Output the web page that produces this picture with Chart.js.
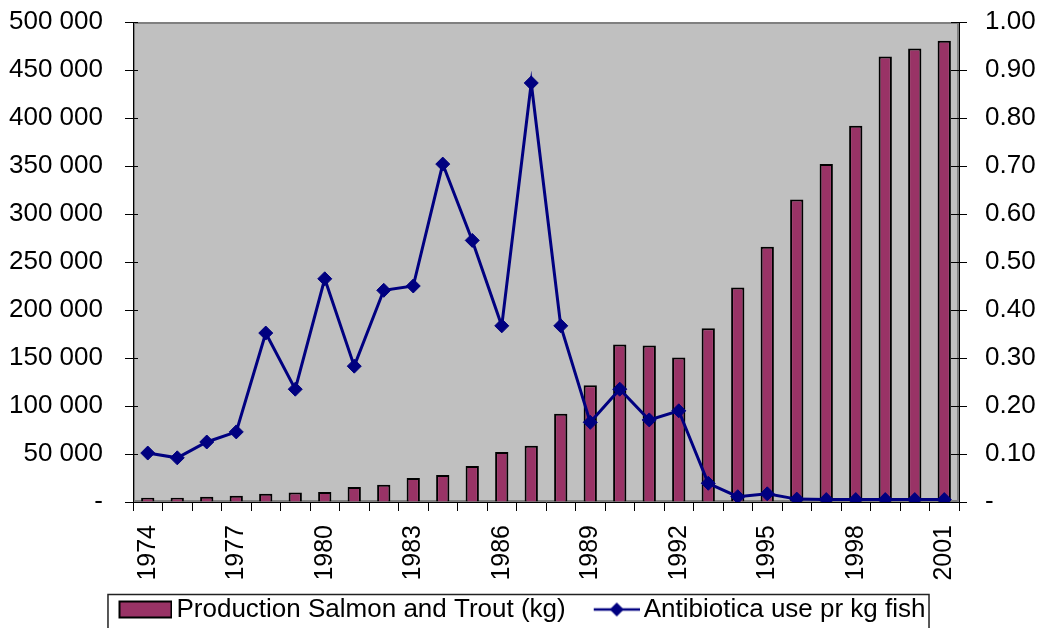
<!DOCTYPE html>
<html>
<head>
<meta charset="utf-8">
<script src="https://cdn.jsdelivr.net/npm/chart.js@4"></script>
<style>
  html, body { margin: 0; padding: 0; background: #fff; }
  #wrap { width: 1044px; height: 628px; }
</style>
</head>
<body>
<div id="wrap"><canvas id="chart" width="1044" height="628"></canvas></div>
<script>
const years = ['1974', '1975', '1976', '1977', '1978', '1979', '1980', '1981', '1982', '1983',
    '1984', '1985', '1986', '1987', '1988', '1989', '1990', '1991', '1992', '1993',
    '1994', '1995', '1996', '1997', '1998', '1999', '2000', '2001'];

// Production Salmon and Trout (kg) - left axis
const production = [4500, 4500, 5500, 6500, 8500, 10000, 10500, 15500, 18000, 25000,
    28000, 37500, 52000, 58500, 92000, 121500, 164000, 163000, 150500, 181000,
    223500, 266000, 315000, 352000, 392000, 464000, 472500, 480500];

// Antibiotica use pr kg fish - right axis
const antibiotics = [0.102, 0.092, 0.125, 0.146, 0.352, 0.235, 0.465, 0.283, 0.441, 0.450,
    0.704, 0.545, 0.367, 0.873, 0.367, 0.166, 0.235, 0.171, 0.190, 0.039,
    0.011, 0.017, 0.006, 0.005, 0.005, 0.005, 0.005, 0.005];

const labelEvery = 3;
const fontFamily = "'Liberation Sans', Arial, sans-serif";

// legend sample images
function legendBarImage() {
    const c = document.createElement('canvas');
    c.width = 63; c.height = 26;
    const g = c.getContext('2d');
    g.fillStyle = '#993366';
    g.strokeStyle = '#000';
    g.lineWidth = 2;
    g.fillRect(10, 5, 52, 16);
    g.strokeRect(10, 5, 52, 16);
    return c;
}
function legendLineImage() {
    const c = document.createElement('canvas');
    c.width = 63; c.height = 26;
    const g = c.getContext('2d');
    g.strokeStyle = '#000080';
    g.fillStyle = '#000080';
    g.lineWidth = 2.5;
    g.beginPath();
    g.moveTo(17, 13);
    g.lineTo(63, 13);
    g.stroke();
    g.beginPath();
    g.moveTo(40, 6); g.lineTo(47, 13); g.lineTo(40, 20); g.lineTo(33, 13);
    g.closePath();
    g.fill();
    return c;
}

function spaced(v) {
    return String(v).replace(/\B(?=(\d{3})+(?!\d))/g, ' ');
}

const plotFrame = {
    id: 'plotFrame',
    afterInit(chart) {
        const fit = chart.legend.fit;
        chart.legend.fit = function () {
            fit.call(this);
            this.height = 34;
        };
    },
    afterLayout(chart) {
        chart.legend._frameTop = chart.legend.top;
        chart.legend.top -= 17.5;
    },
    beforeDraw(chart) {
        const a = chart.chartArea;
        const ctx = chart.ctx;
        ctx.save();
        ctx.fillStyle = '#C0C0C0';
        ctx.fillRect(a.left, a.top, a.right - a.left, a.bottom - a.top);
        ctx.strokeStyle = '#808080';
        ctx.lineWidth = 2;
        ctx.strokeRect(a.left + 1, a.top + 1, a.right - a.left - 2, a.bottom - a.top - 2);
        ctx.restore();
    },
    afterDraw(chart) {
        const ctx = chart.ctx;
        const a = chart.chartArea;
        ctx.save();
        ctx.strokeStyle = '#000';
        ctx.lineWidth = 1;
        // value-axis tick marks, crossing the axis line
        chart.scales.y.ticks.forEach(t => {
            const py = Math.round(chart.scales.y.getPixelForValue(t.value)) + 0.5;
            ctx.beginPath(); ctx.moveTo(a.left - 8, py); ctx.lineTo(a.left + 5, py); ctx.stroke();
        });
        chart.scales.y1.ticks.forEach(t => {
            const py = Math.round(chart.scales.y1.getPixelForValue(t.value)) + 0.5;
            ctx.beginPath(); ctx.moveTo(a.right - 8, py); ctx.lineTo(a.right + 8, py); ctx.stroke();
        });
        // legend frame
        const lg = chart.legend;
        const pad = lg.options.labels.padding;
        const lineW = lg.lineWidths[0];
        const start = (lg.left + pad + lg.right - lineW) / 2;
        const end = start + lineW - pad;
        ctx.strokeStyle = '#222';
        ctx.lineWidth = 1.5;
        ctx.strokeRect(start - 10.5, lg._frameTop + 0.5, end - start + 14, 60);
        ctx.restore();
    }
};

const ctx = document.getElementById('chart').getContext('2d');
const chart = new Chart(ctx, {
    type: 'bar',
    data: {
        labels: years,
        datasets: [{
            type: 'line',
            label: 'Antibiotica use pr kg fish',
            data: antibiotics,
            yAxisID: 'y1',
            borderColor: '#000080',
            backgroundColor: '#000080',
            borderWidth: 3,
            pointStyle: 'rectRot',
            pointRadius: 7,
            pointBorderWidth: 1,
            pointBackgroundColor: '#000080',
            pointBorderColor: '#000080',
            tension: 0,
            fill: false
        }, {
            type: 'bar',
            label: 'Production Salmon and Trout (kg)',
            data: production,
            yAxisID: 'y',
            backgroundColor: '#993366',
            borderColor: '#000',
            borderWidth: 2,
            borderSkipped: 'bottom',
            categoryPercentage: 1,
            barPercentage: 0.45
        }]
    },
    options: {
        responsive: false,
        animation: false,
        layout: { padding: { top: 22, left: 0, right: 0, bottom: 0 } },
        font: { family: fontFamily, size: 26 },
        color: '#000',
        scales: {
            x: {
                offset: true,
                grid: { offset: true, drawOnChartArea: false, drawTicks: true, tickLength: 9, color: '#000' },
                border: { display: true, color: '#000', width: 1 },
                ticks: {
                    autoSkip: false,
                    minRotation: 90,
                    maxRotation: 90,
                    padding: 14,
                    color: '#000',
                    font: { family: fontFamily, size: 25 },
                    callback: (v, i) => (i % labelEvery === 0 ? years[i] : '')
                },
                afterFit: s => { s.height = 92; }
            },
            y: {
                position: 'left',
                min: 0,
                max: 500000,
                grid: { drawOnChartArea: false, tickLength: 30, tickColor: 'rgba(0,0,0,0)' },
                border: { display: true, color: '#000', width: 1 },
                ticks: {
                    stepSize: 50000,
                    padding: 0,
                    color: '#000',
                    font: { family: fontFamily, size: 26 },
                    callback: v => (v === 0 ? '-' : spaced(v))
                },
                afterFit: s => { s.width = 133; }
            },
            y1: {
                position: 'right',
                min: 0,
                max: 1,
                grid: { drawOnChartArea: false, tickLength: 26, tickColor: 'rgba(0,0,0,0)' },
                border: { display: true, color: '#000', width: 1 },
                ticks: {
                    stepSize: 0.1,
                    padding: 0,
                    color: '#000',
                    font: { family: fontFamily, size: 26 },
                    callback: v => (Math.abs(v) < 1e-9 ? '-' : v.toFixed(2))
                },
                afterFit: s => { s.width = 85; }
            }
        },
        plugins: {
            tooltip: { enabled: false },
            legend: {
                position: 'bottom',
                labels: {
                    usePointStyle: true,
                    pointStyleWidth: 45,
                    boxHeight: 26,
                    padding: 20,
                    color: '#000',
                    font: { family: fontFamily, size: 26 },
                    generateLabels: () => [
                        { text: 'Production Salmon and Trout (kg)', pointStyle: legendBarImage(), fillStyle: '#993366', strokeStyle: '#000', lineWidth: 0, hidden: false, datasetIndex: 1 },
                        { text: 'Antibiotica use pr kg fish', pointStyle: legendLineImage(), fillStyle: '#000080', strokeStyle: '#000080', lineWidth: 0, hidden: false, datasetIndex: 0 }
                    ]
                }
            }
        }
    },
    plugins: [plotFrame]
});
</script>
</body>
</html>
